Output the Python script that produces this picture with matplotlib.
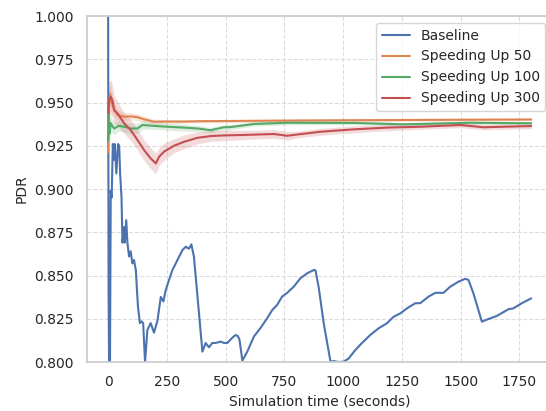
import numpy as np
import matplotlib
matplotlib.use("Agg")
import matplotlib.pyplot as plt
import seaborn as sns

sns.set_theme(style="whitegrid", rc={
    "grid.linestyle": "--",
    "grid.color": "#dcdcdc",
    "grid.linewidth": 0.8,
    "axes.edgecolor": "#cccccc",
})
plt.rcParams.update({
    "font.family": ["DejaVu Sans"],
    "font.size": 10,
    "axes.labelsize": 10,
    "xtick.labelsize": 10,
    "ytick.labelsize": 10,
    "legend.fontsize": 10,
})

# ---- data ----
base_t = [0, 2, 4, 8, 11, 15, 20, 25, 28, 35, 42, 47, 51, 57, 61, 68, 71, 77,
          82, 89, 96, 103, 110, 118, 122, 127, 135, 142, 149, 157, 167, 181,
          195, 210, 224, 235, 245, 259, 273, 295, 316, 330, 344, 354, 365,
          401, 415, 429, 443, 457, 479, 493, 507, 528, 542, 552, 559, 571,
          592, 620, 648, 677, 698, 719, 740, 762, 790, 818, 847, 875, 882,
          896, 917, 946, 960, 981, 1002, 1023, 1052, 1080, 1115, 1151, 1186,
          1215, 1243, 1271, 1307, 1328, 1363, 1392, 1427, 1455, 1490, 1519,
          1533, 1554, 1590, 1611, 1653, 1703, 1724, 1760, 1800]
base_v = [1.0, 0.84, 0.800, 0.800, 0.899, 0.895, 0.926, 0.917, 0.926, 0.909,
          0.926, 0.925, 0.909, 0.895, 0.869, 0.878, 0.869, 0.882, 0.869,
          0.861, 0.864, 0.857, 0.859, 0.853, 0.843, 0.832, 0.8225, 0.8235,
          0.8225, 0.800, 0.8185, 0.8225, 0.817, 0.824, 0.8376, 0.835, 0.8416,
          0.8474, 0.853, 0.859, 0.8647, 0.8666, 0.8655, 0.868, 0.861, 0.806,
          0.811, 0.8085, 0.811, 0.811, 0.8118, 0.811, 0.811, 0.814, 0.8156,
          0.815, 0.8128, 0.8008, 0.806, 0.8147, 0.8196, 0.8254, 0.830, 0.833,
          0.8378, 0.840, 0.8436, 0.8484, 0.8513, 0.8532, 0.853, 0.843, 0.8225,
          0.8002, 0.8005, 0.800, 0.8002, 0.802, 0.807, 0.811, 0.8156, 0.8195,
          0.8224, 0.8262, 0.8281, 0.831, 0.834, 0.834, 0.8378, 0.840, 0.840,
          0.8435, 0.8464, 0.8481, 0.8475, 0.8397, 0.8233, 0.8245, 0.8266,
          0.8305, 0.831, 0.834, 0.8368]

su50_t = [0, 3, 8, 15, 26, 40, 68, 96, 125, 153, 195, 252, 323, 394, 507,
          800, 1100, 1400, 1800]
su50_v = [0.921, 0.945, 0.955, 0.950, 0.9457, 0.9428, 0.9418, 0.9420, 0.9415,
          0.9403, 0.9389, 0.9390, 0.9390, 0.9392, 0.9393, 0.9396, 0.9398,
          0.9400, 0.9402]
su50_s = [0.004, 0.010, 0.008, 0.006, 0.004, 0.003, 0.0025, 0.002, 0.002,
          0.0018, 0.0015, 0.0012, 0.001, 0.001, 0.001, 0.0008, 0.0008,
          0.0008, 0.0008]

su100_t = [0, 3, 6, 11, 20, 26, 45, 68, 96, 125, 146, 195, 252, 323, 380,
           436, 493, 521, 620, 762, 1045, 1257, 1540, 1800]
su100_v = [0.928, 0.945, 0.932, 0.938, 0.936, 0.935, 0.9365, 0.936, 0.935,
           0.935, 0.937, 0.9365, 0.936, 0.9355, 0.935, 0.934, 0.9357, 0.9358,
           0.9376, 0.9383, 0.9382, 0.9374, 0.9383, 0.938]
su100_s = [0.004, 0.006, 0.005, 0.004, 0.004, 0.0035, 0.003, 0.003, 0.003,
           0.003, 0.0025, 0.002, 0.002, 0.002, 0.0018, 0.0016, 0.0015,
           0.0015, 0.0012, 0.0012, 0.001, 0.001, 0.001, 0.001]

su300_t = [0, 4, 11.5, 18.5, 25.6, 40, 68, 96, 125, 153, 181, 203, 217, 238,
           280, 323, 380, 436, 493, 563, 634, 705, 762, 804, 903, 1045, 1186,
           1328, 1498, 1597, 1682, 1800]
su300_v = [0.944, 0.9515, 0.9533, 0.951, 0.9457, 0.9437, 0.938, 0.9341,
           0.9283, 0.9225, 0.9177, 0.9148, 0.9187, 0.9216, 0.925, 0.9273,
           0.9296, 0.9306, 0.931, 0.9312, 0.9315, 0.9318, 0.9308, 0.9315,
           0.9331, 0.9345, 0.9355, 0.936, 0.937, 0.9357, 0.936, 0.9364]
su300_s = [0.008, 0.010, 0.010, 0.009, 0.008, 0.007, 0.006, 0.006, 0.006,
           0.006, 0.006, 0.006, 0.005, 0.005, 0.004, 0.004, 0.0035, 0.003,
           0.003, 0.0028, 0.0025, 0.0025, 0.0025, 0.002, 0.002, 0.002,
           0.0018, 0.0015, 0.0015, 0.0015, 0.0015, 0.0015]

pal = sns.color_palette("deep")

fig = plt.figure(figsize=(5.46, 4.11), dpi=100)
ax = fig.add_axes([0.1593, 0.1192, 0.8524, 0.8418])

ax.plot(base_t, base_v, color=pal[0], lw=1.5, label="Baseline")

for t, v, s, c, lab in [
    (su50_t, su50_v, su50_s, pal[1], "Speeding Up 50"),
    (su100_t, su100_v, su100_s, pal[2], "Speeding Up 100"),
    (su300_t, su300_v, su300_s, pal[3], "Speeding Up 300"),
]:
    t = np.array(t)
    v = np.array(v)
    s = np.array(s)
    ax.fill_between(t, v - s, v + s, color=c, alpha=0.2, linewidth=0)
    ax.plot(t, v, color=c, lw=1.5, label=lab)

ax.set_ylim(0.8, 1.0)
ax.set_yticks(np.arange(0.8, 1.0001, 0.025))
ax.set_yticklabels([f"{y:.3f}" for y in np.arange(0.8, 1.0001, 0.025)])
ax.set_xticks(np.arange(0, 1751, 250))
ax.set_xlabel("Simulation time (seconds)")
ax.set_ylabel("PDR")
ax.legend(loc="upper right")

fig.savefig("out.png", dpi=100)
